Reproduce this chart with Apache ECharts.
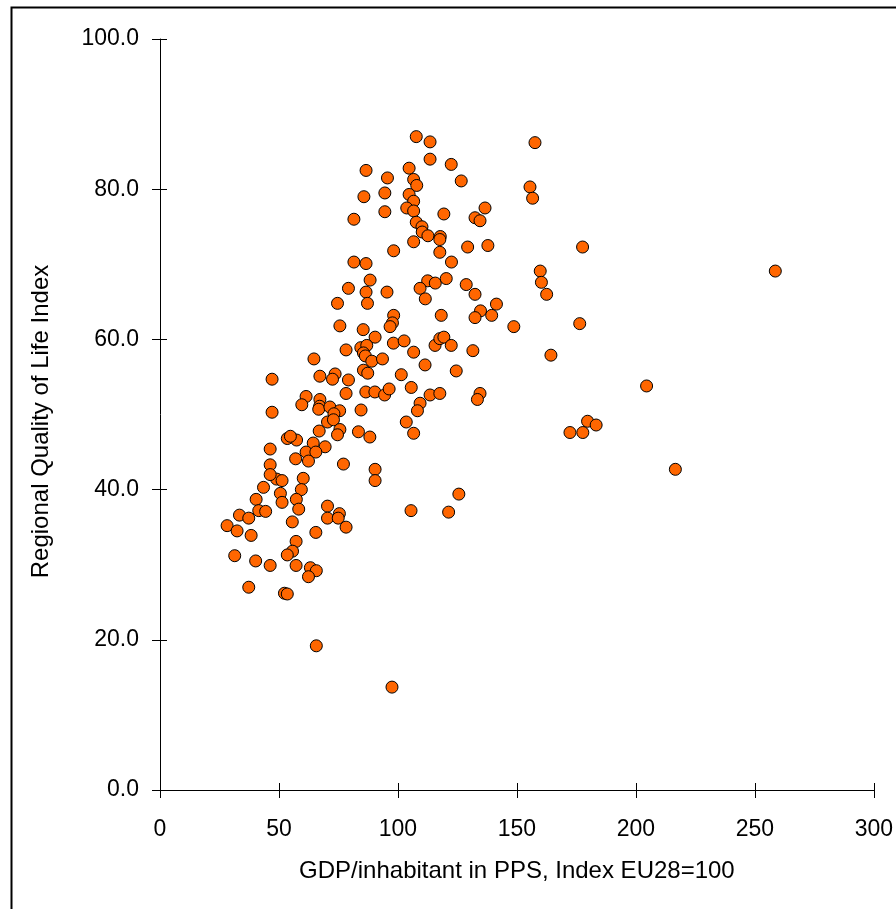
<!DOCTYPE html>
<html>
<head>
<meta charset="utf-8">
<script src="https://cdn.jsdelivr.net/npm/echarts@6/dist/echarts.min.js"></script>
<style>
html,body{margin:0;padding:0;background:#fff;}
#chart{width:896px;height:909px;}
</style>
</head>
<body>
<div id="chart"></div>
<script>
// GDP per inhabitant in PPS (EU28 = 100)
const gdpIndex = [
86.6,95.6,85.7,94.5,94.5,81.5,98.2,81.5,86.6,88.3,79.2,86.6,95.4,74.6,87.2,98.2,97.7,
107.7,113.5,157.6,113.5,122.4,104.7,106.6,107.9,126.6,104.7,106.6,155.5,156.6,103.7,106.6,
119.3,136.6,132.4,134.5,107.7,110.1,110.2,112.6,117.8,117.6,106.6,117.6,129.3,137.8,177.6,
122.5,159.8,160.3,162.5,112.5,109.3,115.7,120.3,111.5,128.7,132.4,118.2,134.7,132.4,139.4,
141.4,148.7,176.4,258.6,
75.6,85.4,90.4,96.7,78.2,84.4,86.9,85.5,86.3,89.0,93.5,64.7,85.5,87.3,67.2,73.6,72.5,79.2,
78.2,86.5,90.3,94.4,96.3,61.4,67.2,67.1,66.7,71.4,75.5,73.1,84.5,59.6,70.4,72.9,66.9,75.6,
74.6,83.4,88.2,57.4,64.4,69.4,61.4,65.5,62.4,77.1,90.4,90.4,60.2,57.0,53.5,54.8,46.3,47.1,
47.1,98.1,102.6,106.6,115.6,117.6,119.3,122.4,131.5,111.4,124.5,101.4,105.6,113.5,117.6,
109.3,108.2,103.5,106.6,164.3,134.5,133.4,179.7,183.3,172.3,177.7,204.5,
49.0,51.3,59.4,43.5,40.4,50.6,51.3,57.3,58.3,41.5,44.4,33.4,37.3,28.2,32.4,38.3,55.6,70.4,
70.4,75.4,74.9,78.2,65.5,57.2,55.7,53.5,31.4,40.2,46.3,57.2,63.2,65.7,62.4,37.3,52.3,53.5,
65.7,97.5,125.6,105.5,121.3,216.6,46.3,46.3
];
// Regional Quality of Life Index
const qolIndex = [
82.5,81.5,79.0,79.5,77.0,76.0,71.8,70.3,70.1,67.9,66.8,66.3,66.3,64.8,64.8,63.2,62.2,
87.0,86.3,86.2,84.0,83.3,82.8,81.3,80.5,81.1,79.3,78.4,80.3,78.8,77.5,77.1,
76.7,77.5,76.2,75.8,75.6,75.0,74.3,73.8,73.7,73.3,73.0,71.6,72.3,72.5,72.3,
70.3,69.1,67.6,66.0,67.8,66.8,67.5,68.1,65.4,67.3,66.0,63.2,63.8,62.9,63.2,
64.7,61.7,62.1,69.1,
61.8,61.3,60.3,61.7,58.6,58.9,59.2,58.2,57.8,57.1,57.4,57.4,55.9,55.5,55.1,55.4,54.7,54.6,
52.8,53.0,53.0,52.6,53.4,52.4,52.0,51.1,50.7,51.0,50.5,50.1,50.6,51.3,49.0,49.3,47.8,48.0,
47.3,47.7,47.0,46.6,46.2,45.7,45.0,45.0,43.8,43.4,42.7,41.2,41.5,44.1,46.8,47.1,45.4,54.7,
50.3,59.5,59.8,58.3,59.2,60.1,60.3,59.2,58.5,56.6,55.8,55.3,53.6,52.6,52.8,
51.5,50.5,49.0,47.5,57.9,52.8,52.0,49.1,48.6,47.6,47.6,53.8,
41.4,41.2,40.0,40.3,38.7,39.5,38.3,38.7,37.4,37.2,37.1,36.6,36.2,35.2,34.5,33.9,35.7,37.8,
36.2,36.8,36.2,35.0,34.3,33.1,31.8,31.3,31.2,30.5,29.9,29.9,29.6,29.2,28.4,27.0,26.2,26.1,
19.2,13.7,39.4,37.2,37.0,42.7,43.3,42.0
];
const xTicks = {min: 0, max: 300, step: 50};
const yTicks = {min: 0, max: 100, step: 20};
const xTitle = 'GDP/inhabitant in PPS, Index EU28=100';
const yTitle = 'Regional Quality of Life Index';

const points = gdpIndex.map((g, i) => [g, qolIndex[i]]);
const FONT = 'Liberation Sans, Arial, sans-serif';
const chart = echarts.init(document.getElementById('chart'), null, {renderer: 'canvas'});
chart.setOption({
  animation: false,
  backgroundColor: '#fff',
  graphic: [{
    type: 'rect', left: 9, top: 5, silent: true,
    shape: {x: 0, y: 0, width: 900, height: 910},
    style: {fill: 'none', stroke: '#000', lineWidth: 2}
  }],
  grid: {left: 160, right: 20, top: 39, bottom: 119, containLabel: false},
  xAxis: [{
    type: 'value', min: xTicks.min, max: xTicks.max, interval: xTicks.step,
    name: xTitle, nameLocation: 'middle', nameGap: 69,
    nameTextStyle: {fontFamily: FONT, fontSize: 24, color: '#000'},
    axisLine: {show: true, lineStyle: {color: '#000', width: 1}},
    axisTick: {show: true, inside: false, length: 8, lineStyle: {color: '#000'}},
    axisLabel: {fontFamily: FONT, fontSize: 23, color: '#000', margin: 28},
    splitLine: {show: false}
  }, {
    type: 'value', min: xTicks.min, max: xTicks.max, interval: xTicks.step, position: 'bottom',
    axisLine: {show: false}, axisTick: {show: true, inside: true, length: 7, lineStyle: {color: '#000'}},
    axisLabel: {show: false}, splitLine: {show: false}
  }],
  yAxis: [{
    type: 'value', min: yTicks.min, max: yTicks.max, interval: yTicks.step,
    name: yTitle, nameLocation: 'middle', nameGap: 107, nameRotate: 90,
    nameTextStyle: {fontFamily: FONT, fontSize: 24, color: '#000', padding: [0, 14, 0, 0]},
    axisLine: {show: true, lineStyle: {color: '#000', width: 1}},
    axisTick: {show: true, inside: false, length: 8, lineStyle: {color: '#000'}},
    axisLabel: {fontFamily: FONT, fontSize: 23, color: '#000', margin: 21,
      formatter: v => v.toFixed(1)},
    splitLine: {show: false}
  }, {
    type: 'value', min: yTicks.min, max: yTicks.max, interval: yTicks.step, position: 'left',
    axisLine: {show: false}, axisTick: {show: true, inside: true, length: 7, lineStyle: {color: '#000'}},
    axisLabel: {show: false}, splitLine: {show: false}
  }],
  series: [{
    type: 'scatter', xAxisIndex: 0, yAxisIndex: 0,
    data: points, symbol: 'circle', symbolSize: 12,
    itemStyle: {color: '#FF6600', borderColor: '#000', borderWidth: 1, opacity: 1}
  }]
});
</script>
</body>
</html>
